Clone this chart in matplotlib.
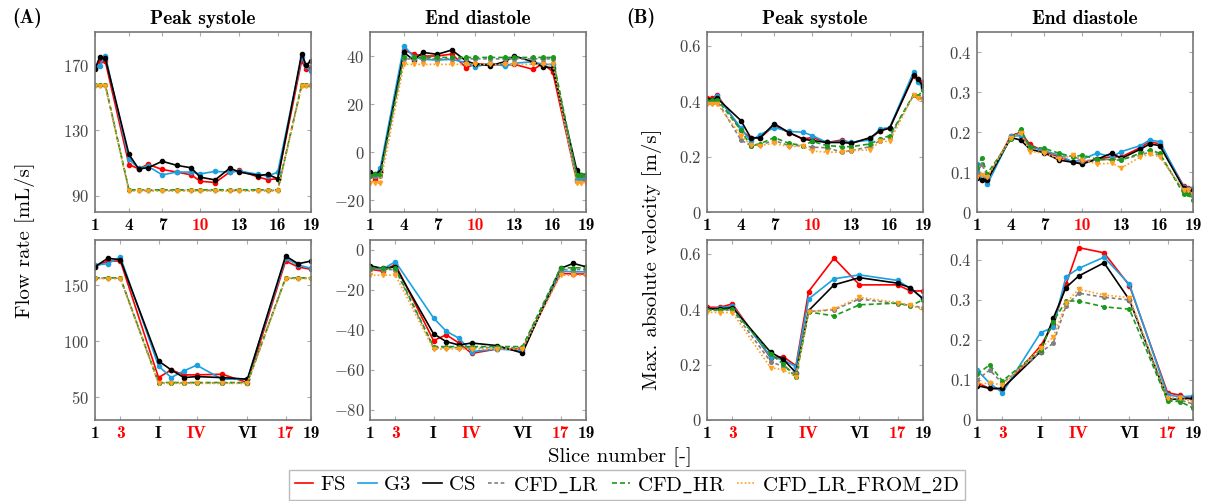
import matplotlib
matplotlib.use("Agg")
import matplotlib.pyplot as plt

# slice positions along the centreline (top row: slices 1-19, bottom row: 12 planes)
pos_top = [0, 14, 31, 102, 131, 159, 202, 246, 289, 316, 361, 405, 434,
           491, 519, 549, 621, 634, 649]
pos_bot = [0, 1, 2, 5, 6, 7, 8, 10, 12, 15, 16, 17]

top_tick_idx = [0, 3, 6, 9, 12, 15, 18]
top_tick_labels = ['1', '4', '7', '10', '13', '16', '19']
top_red = ['10']
bot_tick_idx = [0, 2, 3, 6, 8, 9, 11]
bot_tick_labels = ['1', '3', 'I', 'IV', 'VI', '17', '19']
bot_red = ['3', 'IV', '17']

methods = ['FS', 'G3', 'CS', 'CFD_LR', 'CFD_HR', 'CFD_LR_FROM_2D']

# (A) flow rate, peak systole, slices 1-19
flow_ps_top = {
    'FS': [168, 172, 172, 109, 106.4, 109.1, 106, 104.4, 102.7, 98.8, 98,
           104.4, 105.4, 101.3, 99.8, 100.3, 172.5, 167.3, 168],
    'G3': [169, 169.4, 175.5, 112.2, 106.8, 108, 102.7, 104.4, 104.4, 103.3,
           104.8, 104.4, 105, 103, 101.9, 104.4, 174.7, 169, 165.9],
    'CS': [167.5, 174.5, 174, 115.2, 106.4, 107, 111, 108.5, 107, 101.3, 99.6,
           106.8, 104.4, 102.3, 103, 100.3, 176.8, 169.6, 172.5],
    'CFD_LR': [157.5, 157.5, 157.5, 93.2, 93.2, 93.2, 93.2, 93.2, 93.2, 93.2,
               93.2, 93.2, 93.2, 93.2, 93.2, 93.2, 157.5, 157.5, 157.5],
    'CFD_HR': [157.8, 157.8, 157.8, 93.5, 93.5, 93.5, 93.5, 93.5, 93.5, 93.5,
               93.5, 93.5, 93.5, 93.5, 93.5, 93.5, 157.8, 157.8, 157.8],
    'CFD_LR_FROM_2D': [157.2, 157.2, 157.2, 92.8, 92.8, 92.8, 92.8, 92.8,
                       92.8, 92.8, 92.8, 92.8, 92.8, 92.8, 92.8, 92.8,
                       157.2, 157.2, 157.2],
}

# (A) flow rate, end diastole, slices 1-19
flow_ed_top = {
    'FS': [-9.3, -11.2, -8.4, 42.5, 40.8, 40, 40, 40.8, 35.1, 36.7, 36.5,
           36.2, 36.5, 34.4, 36.9, 33.4, -11.9, -11.5, -11.5],
    'G3': [-9.5, -10, -6.6, 44.3, 39.7, 38.6, 38.3, 38.6, 37.2, 35.5, 37,
           35.8, 37, 37.6, 36.5, 36.5, -11.2, -11, -11],
    'CS': [-8.4, -9.3, -8.4, 41.5, 38.3, 41.5, 40.7, 42.5, 37.9, 36.7, 36,
           37.6, 40, 37.5, 35.5, 35.1, -7.4, -9.4, -9.4],
    'CFD_LR': [-10, -10, -10, 38.8, 38.8, 38.8, 38.8, 38.8, 38.8, 38.8, 38.8,
               38.8, 38.8, 38.8, 38.8, 38.8, -10, -10, -10],
    'CFD_HR': [-9.8, -9.3, -9.3, 39.4, 39.4, 39.4, 39.4, 39.4, 39.4, 39.4,
               39.4, 39.4, 39.4, 39.4, 39.4, 39.4, -9.4, -9.4, -9.4],
    'CFD_LR_FROM_2D': [-13, -13, -13, 36.5, 36.5, 36.5, 36.5, 36.5, 36.5,
                       36.5, 36.5, 36.5, 36.5, 36.5, 36.5, 36.5, -13, -13, -13],
}

# (B) max velocity, peak systole, slices 1-19
vel_ps_top = {
    'FS': [0.41, 0.41, 0.422, 0.297, 0.267, 0.267, 0.312, 0.287, 0.264, 0.269,
           0.251, 0.26, 0.25, 0.265, 0.293, 0.303, 0.491, 0.479, 0.469],
    'G3': [0.40, 0.405, 0.418, 0.303, 0.255, 0.279, 0.305, 0.291, 0.288,
           0.276, 0.251, 0.255, 0.252, 0.26, 0.30, 0.305, 0.507, 0.47, 0.445],
    'CS': [0.406, 0.406, 0.41, 0.33, 0.269, 0.267, 0.319, 0.287, 0.263, 0.258,
           0.251, 0.251, 0.248, 0.269, 0.293, 0.303, 0.493, 0.481, 0.452],
    'CFD_LR': [0.395, 0.395, 0.40, 0.26, 0.24, 0.242, 0.258, 0.24, 0.24,
               0.234, 0.232, 0.216, 0.222, 0.236, 0.258, 0.27, 0.422, 0.414,
               0.41],
    'CFD_HR': [0.40, 0.403, 0.406, 0.295, 0.24, 0.246, 0.269, 0.248, 0.24,
               0.255, 0.24, 0.236, 0.236, 0.246, 0.263, 0.276, 0.424, 0.418,
               0.44],
    'CFD_LR_FROM_2D': [0.39, 0.39, 0.39, 0.276, 0.242, 0.24, 0.248, 0.236,
                       0.238, 0.22, 0.216, 0.216, 0.222, 0.224, 0.255, 0.255,
                       0.424, 0.412, 0.402],
}

# (B) max velocity, end diastole, slices 1-19
vel_ed_top = {
    'FS': [0.09, 0.082, 0.08, 0.191, 0.199, 0.169, 0.151, 0.138, 0.124, 0.124,
           0.132, 0.138, 0.138, 0.161, 0.176, 0.17, 0.065, 0.06, 0.05],
    'G3': [0.12, 0.085, 0.069, 0.189, 0.191, 0.163, 0.153, 0.142, 0.125,
           0.132, 0.147, 0.138, 0.151, 0.166, 0.18, 0.176, 0.062, 0.058, 0.06],
    'CS': [0.084, 0.08, 0.08, 0.186, 0.18, 0.157, 0.148, 0.13, 0.124, 0.12,
           0.132, 0.147, 0.134, 0.157, 0.17, 0.166, 0.06, 0.05, 0.055],
    'CFD_LR': [0.095, 0.12, 0.09, 0.184, 0.2, 0.16, 0.152, 0.14, 0.14, 0.128,
               0.13, 0.132, 0.132, 0.142, 0.15, 0.142, 0.05, 0.05, 0.04],
    'CFD_HR': [0.11, 0.135, 0.096, 0.182, 0.207, 0.163, 0.159, 0.147, 0.138,
               0.142, 0.132, 0.13, 0.13, 0.147, 0.155, 0.147, 0.045, 0.045,
               0.03],
    'CFD_LR_FROM_2D': [0.088, 0.093, 0.088, 0.186, 0.197, 0.151, 0.148,
                       0.132, 0.142, 0.13, 0.12, 0.122, 0.11, 0.138, 0.144,
                       0.138, 0.055, 0.055, 0.045],
}

# (A) flow rate, peak systole, planes 1,2,3,I..VI,17,18,19
flow_ps_bot = {
    'FS': [166.3, 171.3, 171.3, 67.7, 74.5, 70.1, 70.1, 70.7, 63.3, 171.3,
           166, 163.9],
    'G3': [167.8, 168.9, 174.9, 78, 67.7, 73.7, 78.7, 66.3, 66.3, 173.7,
           167.8, 164.8],
    'CS': [166.3, 173.7, 172.5, 82.5, 74.5, 67.7, 68.6, 67.7, 66.3, 175.7,
           168.9, 171.3],
    'CFD_LR': [156, 156, 156, 63, 63, 63, 63, 63, 63, 156, 156, 156],
    'CFD_HR': [156.3, 156.3, 156.3, 63.3, 63.3, 63.3, 63.3, 63.3, 63.3,
               156.3, 156.3, 156.3],
    'CFD_LR_FROM_2D': [155.7, 155.7, 155.7, 62.5, 62.5, 62.5, 62.5, 62.5,
                       62.5, 155.7, 155.7, 155.7],
}

# (A) flow rate, end diastole, planes
flow_ed_bot = {
    'FS': [-9.6, -10.6, -7.2, -45.3, -42.4, -46.5, -51.7, -49.5, -49.5,
           -11.7, -12, -12],
    'G3': [-9, -9.5, -5.9, -34, -40.6, -44.1, -50.8, -49.5, -50.3, -10.6,
           -10.9, -10.9],
    'CS': [-7.9, -9.2, -8.4, -41.9, -45.8, -47.5, -46.5, -47.8, -51.5, -9.2,
           -6.7, -8.4],
    'CFD_LR': [-9.5, -9.8, -9.8, -48.8, -48.8, -48.8, -48.8, -48.8, -48.8,
               -9.8, -9.8, -9.8],
    'CFD_HR': [-8.9, -9.2, -9.2, -48.3, -48.3, -48.3, -48.3, -48.3, -48.3,
               -8.9, -8.9, -8.9],
    'CFD_LR_FROM_2D': [-12.6, -12.6, -12.6, -49.5, -49.5, -49.5, -49.5,
                       -49.5, -49.5, -12.6, -12.6, -12.6],
}

# (B) max velocity, peak systole, planes
vel_ps_bot = {
    'FS': [0.407, 0.407, 0.419, 0.225, 0.229, 0.196, 0.464, 0.584, 0.488,
           0.488, 0.466, 0.466],
    'G3': [0.401, 0.404, 0.412, 0.229, 0.217, 0.193, 0.437, 0.51, 0.524,
           0.504, 0.475, 0.44],
    'CS': [0.401, 0.401, 0.406, 0.245, 0.219, 0.171, 0.395, 0.488, 0.514,
           0.494, 0.478, 0.437],
    'CFD_LR': [0.396, 0.396, 0.398, 0.211, 0.193, 0.168, 0.392, 0.398, 0.437,
               0.42, 0.414, 0.405],
    'CFD_HR': [0.398, 0.398, 0.40, 0.239, 0.202, 0.154, 0.39, 0.376, 0.416,
               0.422, 0.412, 0.434],
    'CFD_LR_FROM_2D': [0.389, 0.388, 0.388, 0.189, 0.181, 0.157, 0.39, 0.401,
                       0.443, 0.424, 0.414, 0.40],
}

# (B) max velocity, end diastole, planes
vel_ed_bot = {
    'FS': [0.093, 0.079, 0.077, 0.185, 0.239, 0.339, 0.431, 0.418, 0.336,
           0.068, 0.062, 0.05],
    'G3': [0.125, 0.092, 0.068, 0.218, 0.232, 0.358, 0.379, 0.407, 0.339,
           0.0625, 0.058, 0.06],
    'CS': [0.086, 0.079, 0.079, 0.171, 0.254, 0.331, 0.36, 0.393, 0.30,
           0.052, 0.052, 0.055],
    'CFD_LR': [0.10, 0.125, 0.092, 0.169, 0.192, 0.285, 0.317, 0.307, 0.30,
               0.05, 0.05, 0.04],
    'CFD_HR': [0.115, 0.1375, 0.0975, 0.175, 0.246, 0.2975, 0.2975, 0.283,
               0.277, 0.0475, 0.046, 0.03],
    'CFD_LR_FROM_2D': [0.089, 0.093, 0.0875, 0.179, 0.207, 0.292, 0.327,
                       0.3125, 0.306, 0.055, 0.055, 0.045],
}

STYLES = {
    'FS': dict(color='#ff0000', ls='-', marker='o', ms=3.0),
    'G3': dict(color='#1ba1e2', ls='-', marker='o', ms=3.0),
    'CS': dict(color='#000000', ls='-', marker='o', ms=3.0),
    'CFD_LR': dict(color='#808080', ls=(0, (2.2, 1.6)), marker='o', ms=2.6),
    'CFD_HR': dict(color='#1a9a1a', ls=(0, (3, 1.8)), marker='o', ms=2.6),
    'CFD_LR_FROM_2D': dict(color='#ffa020', ls=(0, (1, 1.3)), marker='v',
                           ms=3.0),
}

W, H = 1212, 501


def fmt(v):
    '''Tick label in Computer Modern with a real minus sign'''
    return r'$\mathrm{%s}$' % ('%g' % v)


def legend_text(name):
    '''cmr10 has no underscore glyph, so go through mathtext'''
    return r'$\mathrm{%s}$' % name.replace('_', r'\_')


def draw_panel(rect, xpos, data, ylim, yticks, tick_idx, tick_labels,
               red_labels, title=None):
    '''Draws one panel with the six methods.'''
    ax = plt.gcf().add_axes(rect)
    for m in methods:
        ax.plot(xpos, data[m], lw=1.2, label=legend_text(m), **STYLES[m])
    ax.set_xlim(xpos[0], xpos[-1])
    ax.set_ylim(*ylim)
    ax.set_xticks([xpos[i] for i in tick_idx])
    ax.set_xticklabels(tick_labels, fontfamily='cmb10', fontsize=12.5)
    for lab in ax.get_xticklabels():
        if lab.get_text() in red_labels:
            lab.set_color('#ff0000')
    ax.set_yticks(yticks)
    ax.set_yticklabels([fmt(v) for v in yticks], fontsize=12,
                       color='#444444')
    ax.tick_params(direction='in', top=True, right=True, length=3,
                   color='#aaaaaa', width=0.8, pad=4)
    for s in ax.spines.values():
        s.set_color('#777777')
        s.set_linewidth(1.2)
    if title:
        ax.set_title(title, fontfamily='cmb10', fontsize=14, pad=6)
    return ax


def main():
    '''Main Driver Function'''
    plt.rcParams['font.family'] = ['cmr10', 'DejaVu Serif']
    plt.rcParams['mathtext.fontset'] = 'cm'
    plt.rcParams['axes.unicode_minus'] = False

    fig = plt.figure(figsize=(W / 100, H / 100), dpi=100)
    lefts = [95, 370, 707, 977]
    pw, ph = 216, 180
    top_y, bot_y = 32, 240

    def rect(left, top):
        return [left / W, 1 - (top + ph) / H, pw / W, ph / H]

    ax = draw_panel(rect(lefts[0], top_y), pos_top, flow_ps_top, (80, 190),
                    [90, 130, 170], top_tick_idx, top_tick_labels, top_red,
                    'Peak systole')
    draw_panel(rect(lefts[1], top_y), pos_top, flow_ed_top, (-25, 50),
               [-20, 0, 20, 40], top_tick_idx, top_tick_labels, top_red,
               'End diastole')
    draw_panel(rect(lefts[2], top_y), pos_top, vel_ps_top, (0, 0.65),
               [0, 0.2, 0.4, 0.6], top_tick_idx, top_tick_labels, top_red,
               'Peak systole')
    draw_panel(rect(lefts[3], top_y), pos_top, vel_ed_top, (0, 0.45),
               [0, 0.1, 0.2, 0.3, 0.4], top_tick_idx, top_tick_labels,
               top_red, 'End diastole')
    draw_panel(rect(lefts[0], bot_y), pos_bot, flow_ps_bot, (30, 190),
               [50, 100, 150], bot_tick_idx, bot_tick_labels, bot_red)
    draw_panel(rect(lefts[1], bot_y), pos_bot, flow_ed_bot, (-85, 5),
               [-80, -60, -40, -20, 0], bot_tick_idx, bot_tick_labels,
               bot_red)
    draw_panel(rect(lefts[2], bot_y), pos_bot, vel_ps_bot, (0, 0.65),
               [0, 0.2, 0.4, 0.6], bot_tick_idx, bot_tick_labels, bot_red)
    draw_panel(rect(lefts[3], bot_y), pos_bot, vel_ed_bot, (0, 0.45),
               [0, 0.1, 0.2, 0.3, 0.4], bot_tick_idx, bot_tick_labels,
               bot_red)

    fig.text(27 / W, 1 - 18 / H, '(A)', fontfamily='cmb10', fontsize=14,
             ha='center', va='center')
    fig.text(641 / W, 1 - 18 / H, '(B)', fontfamily='cmb10', fontsize=14,
             ha='center', va='center')
    fig.text(25 / W, 1 - 240 / H, 'Flow rate [mL/s]', rotation=90,
             fontsize=15, ha='center', va='center')
    fig.text(652 / W, 1 - 259 / H, 'Max. absolute velocity [m/s]',
             rotation=90, fontsize=15, ha='center', va='center')
    fig.text(620 / W, 1 - 457 / H, 'Slice number [-]', fontsize=15,
             ha='center', va='center')

    handles, labels = ax.get_legend_handles_labels()
    fig.legend(handles, labels, loc='center',
               bbox_to_anchor=(627 / W, 1 - 485 / H), ncol=6, frameon=True,
               fancybox=False, edgecolor='#aaaaaa', fontsize=15,
               handlelength=0.9, handletextpad=0.3, columnspacing=0.6,
               borderpad=0.25, markerscale=0.001)
    fig.savefig('out.png', dpi=100)


if __name__ == "__main__":
    main()
